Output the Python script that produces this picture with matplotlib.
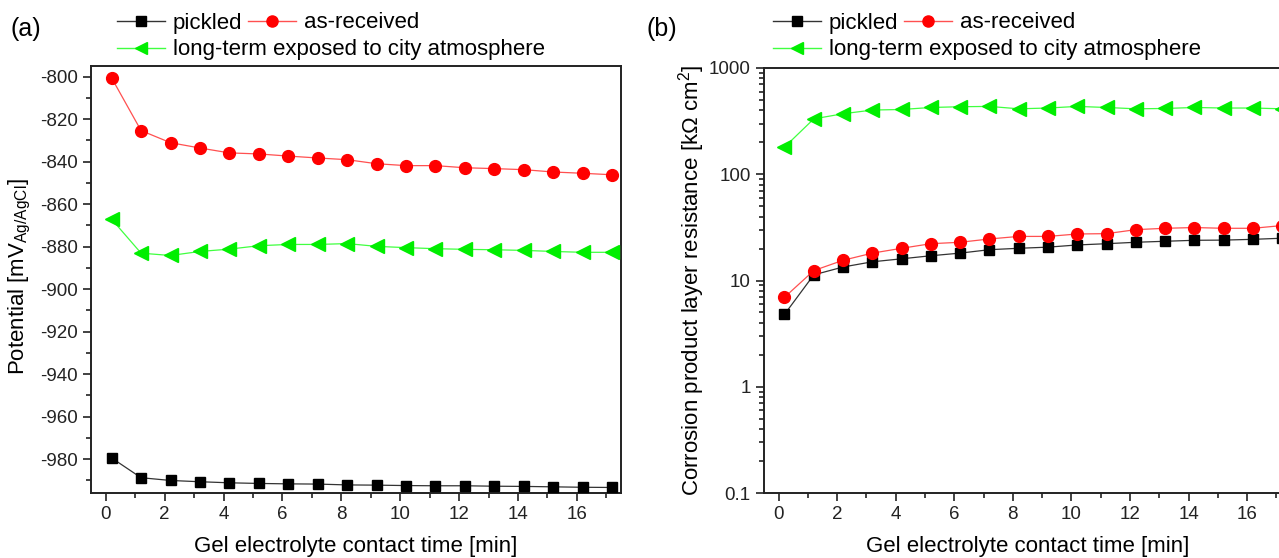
import numpy as np
import matplotlib
matplotlib.use("Agg")
import matplotlib.pyplot as plt
from matplotlib.lines import Line2D
from matplotlib.ticker import MultipleLocator, LogLocator, FuncFormatter, NullFormatter

plt.rcParams["font.family"] = ["Liberation Sans", "DejaVu Sans"]
plt.rcParams["mathtext.default"] = "regular"
plt.rcParams["axes.unicode_minus"] = False

# gel electrolyte contact time [min]
time_min = [0.2, 1.2, 2.2, 3.2, 4.2, 5.2, 6.2, 7.2, 8.2, 9.2,
            10.2, 11.2, 12.2, 13.2, 14.2, 15.2, 16.2, 17.2]

# (a) potential [mV Ag/AgCl]
pot_pickled = [-979.5, -988.8, -990.1, -990.7, -991.2, -991.5, -991.7, -991.8, -992.2,
               -992.3, -992.5, -992.6, -992.6, -992.8, -992.9, -993.1, -993.3, -993.4]
pot_received = [-800.6, -825.4, -831.1, -833.6, -835.9, -836.4, -837.4, -838.3, -839.1,
                -841.0, -841.9, -841.9, -842.9, -843.3, -843.8, -844.9, -845.5, -846.2]
pot_city = [-867.1, -883.1, -884.2, -882.3, -881.2, -879.6, -879.0, -879.0, -878.6,
            -879.9, -880.5, -881.0, -881.3, -881.5, -881.8, -882.3, -882.7, -882.7]

# (b) corrosion product layer resistance [kOhm cm2]
res_pickled = [4.8, 11.3, 13.4, 15.0, 16.0, 17.1, 18.1, 19.5, 20.1, 20.6,
               21.6, 22.2, 22.9, 23.4, 23.9, 24.0, 24.4, 25.0]
res_received = [6.95, 12.4, 15.5, 18.1, 20.1, 22.2, 22.9, 24.6, 26.0, 26.0,
                27.4, 27.6, 30.1, 31.0, 31.5, 31.0, 31.0, 32.9]
res_city = [180, 332, 371, 402, 407, 425, 432, 435, 413, 420,
            435, 425, 413, 416, 425, 420, 420, 413]

SERIES_STYLE = {
    "pickled": dict(color="#000000", marker="s", line="#333333", ms=7.5),
    "as-received": dict(color="#ff0000", marker="o", line="#ff5050", ms=8.5),
    "long-term exposed to city atmosphere": dict(color="#00ee00", marker="<", line="#40ff40", ms=9.5),
}

W, H = 1279, 558
fig = plt.figure(figsize=(W / 100, H / 100), dpi=100)


def px_axes(x0, y0, x1, y1):
    return fig.add_axes([x0 / W, 1 - y1 / H, (x1 - x0) / W, (y1 - y0) / H])


def plot_series(ax, y, name):
    st = SERIES_STYLE[name]
    ax.plot(time_min, y, color=st["line"], lw=0.9, zorder=2)
    ax.plot(time_min, y, ls="none", marker=st["marker"], ms=st["ms"],
            mfc=st["color"], mec=st["color"], zorder=3)


def style_axes(ax):
    for side in ["top", "right", "left", "bottom"]:
        ax.spines[side].set_linewidth(1.4)
        ax.spines[side].set_color("#222222")
    ax.tick_params(which="both", direction="out", top=False, right=False,
                   labelsize=13.5, width=1.2, colors="#222222")
    ax.tick_params(which="major", length=6)
    ax.tick_params(which="minor", length=3.6)
    ax.set_xlim(-0.5, 17.5)
    ax.xaxis.set_major_locator(MultipleLocator(2))
    ax.xaxis.set_minor_locator(MultipleLocator(1))
    ax.set_xlabel("Gel electrolyte contact time [min]", fontsize=16, labelpad=9)


def add_legend(x_px):
    handles = []
    for name, st in SERIES_STYLE.items():
        handles.append(Line2D([], [], color=st["line"], lw=1.0, marker=st["marker"],
                              ms=st["ms"] - 0.5, mfc=st["color"], mec=st["color"], label=name))
    common = dict(frameon=False, fontsize=16, handlelength=2.15, handletextpad=0.36,
                  borderpad=0, borderaxespad=0, loc="center left", columnspacing=0.27)
    fig.legend(handles=handles[:2], ncol=2, bbox_to_anchor=(x_px / W, 1 - 23 / H), **common)
    fig.legend(handles=handles[2:], ncol=1, bbox_to_anchor=(x_px / W, 1 - 50 / H), **common)


# panel (a)
ax1 = px_axes(91, 66, 621, 493)
plot_series(ax1, pot_pickled, "pickled")
plot_series(ax1, pot_received, "as-received")
plot_series(ax1, pot_city, "long-term exposed to city atmosphere")
style_axes(ax1)
ax1.set_ylim(-996, -795)
ax1.yaxis.set_major_locator(MultipleLocator(20))
ax1.yaxis.set_minor_locator(MultipleLocator(10))
ax1.set_ylabel("Potential [mV$_{Ag/AgCl}$]", fontsize=16)
ax1.yaxis.set_label_coords(33 / W, 1 - 277 / H, transform=fig.transFigure)

# panel (b)
ax2 = px_axes(764, 68, 1291, 493)
plot_series(ax2, res_pickled, "pickled")
plot_series(ax2, res_received, "as-received")
plot_series(ax2, res_city, "long-term exposed to city atmosphere")
style_axes(ax2)
ax2.set_yscale("log")
ax2.set_ylim(0.1, 1000)
ax2.yaxis.set_major_locator(LogLocator(base=10, numticks=10))
ax2.yaxis.set_minor_locator(LogLocator(base=10, subs=np.arange(2, 10), numticks=10))
ax2.yaxis.set_major_formatter(FuncFormatter(lambda v, p: f"{v:g}"))
ax2.yaxis.set_minor_formatter(NullFormatter())
ax2.set_ylabel("Corrosion product layer resistance [k\u03a9 cm$^2$]", fontsize=16)
ax2.yaxis.set_label_coords(707 / W, 1 - 281 / H, transform=fig.transFigure)

add_legend(117)
add_legend(773)

fig.text(10 / W, 1 - 29 / H, "(a)", fontsize=18, va="center", ha="left")
fig.text(646 / W, 1 - 29 / H, "(b)", fontsize=18, va="center", ha="left")

fig.savefig("out.png", dpi=100)
